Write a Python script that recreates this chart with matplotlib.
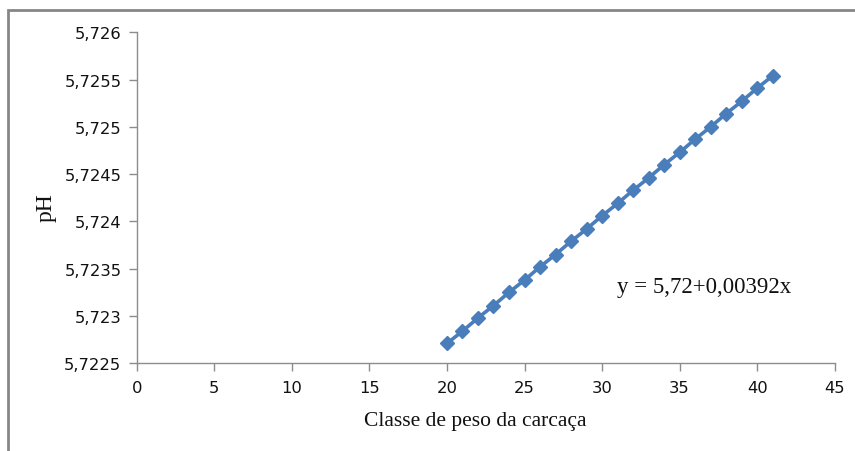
import matplotlib
matplotlib.use('Agg')
import matplotlib.pyplot as plt
from matplotlib.ticker import FuncFormatter, MultipleLocator
from matplotlib.patches import Rectangle

# carcass weight class vs pH
classe = [20, 21, 22, 23, 24, 25, 26, 27, 28, 29, 30,
          31, 32, 33, 34, 35, 36, 37, 38, 39, 40, 41]
ph = [5.72271, 5.72284, 5.72298, 5.72311, 5.72325, 5.72338, 5.72352, 5.72365,
      5.72379, 5.72392, 5.72406, 5.72419, 5.72433, 5.72446, 5.72460, 5.72473,
      5.72487, 5.72500, 5.72514, 5.72527, 5.72541, 5.72554]

x_label = 'Classe de peso da carcaça'
y_label = 'pH'
equation = 'y = 5,72+0,00392x'

fig = plt.figure(figsize=(8.55, 4.52), dpi=100)
ax = fig.add_axes([0.1599, 0.194, 0.8164, 0.7323])

blue = '#4A7EBB'
ax.plot(classe, ph, color=blue, lw=2.6, marker='D', ms=7.5,
        mec=blue, mfc=blue, zorder=3)

ax.set_xlim(0, 45)
ax.set_ylim(5.7225, 5.726)
ax.xaxis.set_major_locator(MultipleLocator(5))
ax.yaxis.set_major_locator(MultipleLocator(0.0005))


def comma_fmt(v, pos):
    s = f'{v:.4f}'.rstrip('0').rstrip('.')
    return s.replace('.', ',')


ax.yaxis.set_major_formatter(FuncFormatter(comma_fmt))
ax.xaxis.set_major_formatter(FuncFormatter(lambda v, p: f'{v:.0f}'))

for side in ['top', 'right']:
    ax.spines[side].set_visible(False)
for side in ['left', 'bottom']:
    ax.spines[side].set_color('#8C8C8C')
    ax.spines[side].set_linewidth(1.0)

ax.tick_params(axis='both', direction='out', length=6, width=1.0,
               color='#8C8C8C', labelsize=11.8, labelcolor='#111111')
ax.tick_params(axis='y', pad=5)
ax.tick_params(axis='x', pad=6)
for lbl in ax.get_xticklabels() + ax.get_yticklabels():
    lbl.set_family('DejaVu Sans')

fig.text(475 / 855, 1 - 422 / 452, x_label, family='Liberation Serif',
         fontsize=15.5, ha='center', va='center', color='#111111')
fig.text(46 / 855, 1 - 208 / 452, y_label, family='Liberation Serif',
         fontsize=17, rotation=90, ha='center', va='center', color='#111111')

fig.text(704 / 855, 1 - 288 / 452, equation, family='Liberation Serif',
         fontsize=16.5, ha='center', va='center', color='#111111')

# chart area border (only left and top visible in the crop)
fig.patches.append(Rectangle((8 / 855, -0.1), 1.2, 1 - 11 / 452 + 0.1,
                             transform=fig.transFigure, fill=False,
                             edgecolor='#868686', lw=2.0))

fig.savefig('out.png', dpi=100)
